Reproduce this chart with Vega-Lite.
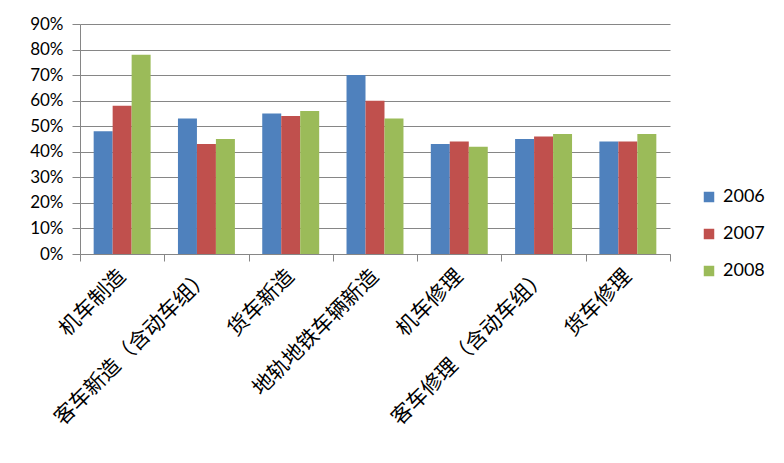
{
  "$schema": "https://vega.github.io/schema/vega-lite/v6.json",
  "autosize": "none",
  "width": 590,
  "height": 230,
  "padding": {"left": 80, "top": 24, "right": 114, "bottom": 209},
  "background": "white",
  "data": {
    "values": [
      {"item": "机车制造", "year": "2006", "share": 0.48},
      {"item": "机车制造", "year": "2007", "share": 0.58},
      {"item": "机车制造", "year": "2008", "share": 0.78},
      {"item": "客车新造（含动车组）", "year": "2006", "share": 0.53},
      {"item": "客车新造（含动车组）", "year": "2007", "share": 0.43},
      {"item": "客车新造（含动车组）", "year": "2008", "share": 0.45},
      {"item": "货车新造", "year": "2006", "share": 0.55},
      {"item": "货车新造", "year": "2007", "share": 0.54},
      {"item": "货车新造", "year": "2008", "share": 0.56},
      {"item": "地轨地铁车辆新造", "year": "2006", "share": 0.70},
      {"item": "地轨地铁车辆新造", "year": "2007", "share": 0.60},
      {"item": "地轨地铁车辆新造", "year": "2008", "share": 0.53},
      {"item": "机车修理", "year": "2006", "share": 0.43},
      {"item": "机车修理", "year": "2007", "share": 0.44},
      {"item": "机车修理", "year": "2008", "share": 0.42},
      {"item": "客车修理（含动车组）", "year": "2006", "share": 0.45},
      {"item": "客车修理（含动车组）", "year": "2007", "share": 0.46},
      {"item": "客车修理（含动车组）", "year": "2008", "share": 0.47},
      {"item": "货车修理", "year": "2006", "share": 0.44},
      {"item": "货车修理", "year": "2007", "share": 0.44},
      {"item": "货车修理", "year": "2008", "share": 0.47}
    ]
  },
  "mark": {"type": "bar"},
  "encoding": {
    "x": {
      "field": "item",
      "type": "nominal",
      "sort": null,
      "scale": {"paddingInner": 0, "paddingOuter": 0},
      "axis": {
        "title": null,
        "tickBand": "extent",
        "labelAngle": -45,
        "labelAlign": "right",
        "labelBaseline": "middle",
        "labelPadding": 12,
        "labelLimit": 0,
        "labelFont": "Noto Sans CJK SC",
        "labelFontSize": 21,
        "labelColor": "black",
        "tickSize": 7,
        "tickColor": "#868686",
        "domainColor": "#868686"
      }
    },
    "xOffset": {
      "field": "year",
      "type": "nominal",
      "scale": {"paddingInner": 0, "paddingOuter": 0.72}
    },
    "y": {
      "field": "share",
      "type": "quantitative",
      "scale": {"domain": [0, 0.9]},
      "axis": {
        "title": null,
        "format": "%",
        "values": [0, 0.1, 0.2, 0.3, 0.4, 0.5, 0.6, 0.7, 0.8, 0.9],
        "grid": true,
        "gridColor": "#868686",
        "gridOpacity": 1,
        "tickSize": 8,
        "tickColor": "#868686",
        "domainColor": "#868686",
        "labelPadding": 9,
        "labelFont": "Lato",
        "labelFontSize": 17,
        "labelColor": "black"
      }
    },
    "color": {
      "field": "year",
      "type": "nominal",
      "scale": {"range": ["#4F81BD", "#C0504D", "#9BBB59"]},
      "legend": {
        "title": null,
        "orient": "none",
        "legendX": 620,
        "legendY": 164,
        "padding": 0,
        "symbolType": "square",
        "symbolSize": 110,
        "symbolStrokeWidth": 0,
        "symbolOpacity": 1,
        "labelFont": "Lato",
        "labelFontSize": 18,
        "labelColor": "black",
        "labelOffset": 5,
        "rowPadding": 19
      }
    }
  },
  "config": {
    "view": {"stroke": null},
    "axis": {"ticks": true}
  }
}
